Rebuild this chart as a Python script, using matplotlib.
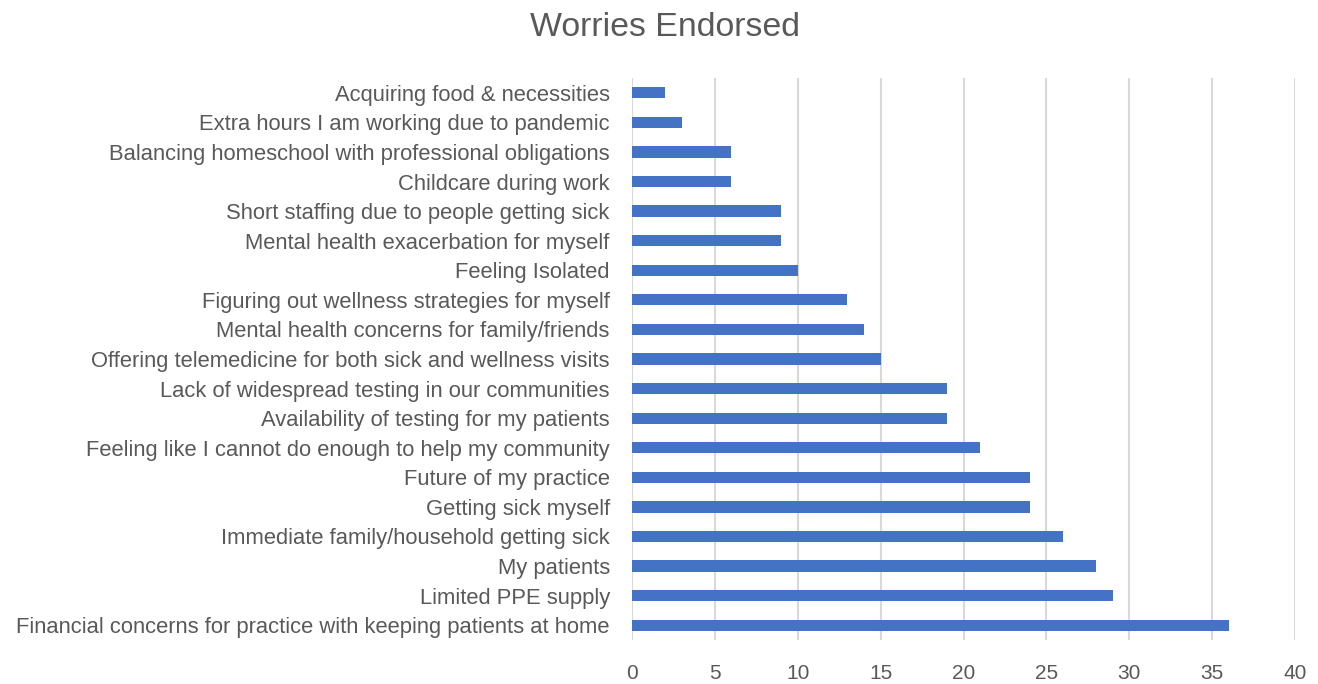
import matplotlib.pyplot as plt

# categories, top to bottom as shown
labels = [
    "Acquiring food & necessities",
    "Extra hours I am working due to pandemic",
    "Balancing homeschool with professional obligations",
    "Childcare during work",
    "Short staffing due to people getting sick",
    "Mental health exacerbation for myself",
    "Feeling Isolated",
    "Figuring out wellness strategies for myself",
    "Mental health concerns for family/friends",
    "Offering telemedicine for both sick and wellness visits",
    "Lack of widespread testing in our communities",
    "Availability of testing for my patients",
    "Feeling like I cannot do enough to help my community",
    "Future of my practice",
    "Getting sick myself",
    "Immediate family/household getting sick",
    "My patients",
    "Limited PPE supply",
    "Financial concerns for practice with keeping patients at home",
]
counts = [2, 3, 6, 6, 9, 9, 10, 13, 14, 15, 19, 19, 21, 24, 24, 26, 28, 29, 36]
xticks = [0, 5, 10, 15, 20, 25, 30, 35, 40]

plt.rcParams["font.family"] = ["Liberation Sans", "DejaVu Sans"]
text_color = "#595959"

fig = plt.figure(figsize=(13.18, 6.84), dpi=100)
ax = fig.add_axes([632 / 1318, 1 - 640 / 684, 663 / 1318, 562 / 684])

ypos = list(range(len(labels)))[::-1]
ax.barh(ypos, counts, height=0.38, color="#4472C4", zorder=3)

ax.set_xlim(0, 40)
ax.set_ylim(-0.5, len(labels) - 0.5)
ax.set_xticks(xticks)
ax.set_yticks(ypos)
ax.set_yticklabels(labels)
ax.tick_params(axis="both", length=0, colors=text_color)
ax.tick_params(axis="x", pad=17, labelsize=15)
ax.tick_params(axis="y", pad=16, labelsize=15.8)

ax.grid(axis="x", color="#D9D9D9", linewidth=1.5, zorder=0)
for s in ax.spines.values():
    s.set_visible(False)

fig.suptitle("Worries Endorsed", x=665 / 1318, y=0.982, fontsize=24.4,
             color=text_color, va="top")

fig.savefig("out.png", dpi=100, facecolor="white")
